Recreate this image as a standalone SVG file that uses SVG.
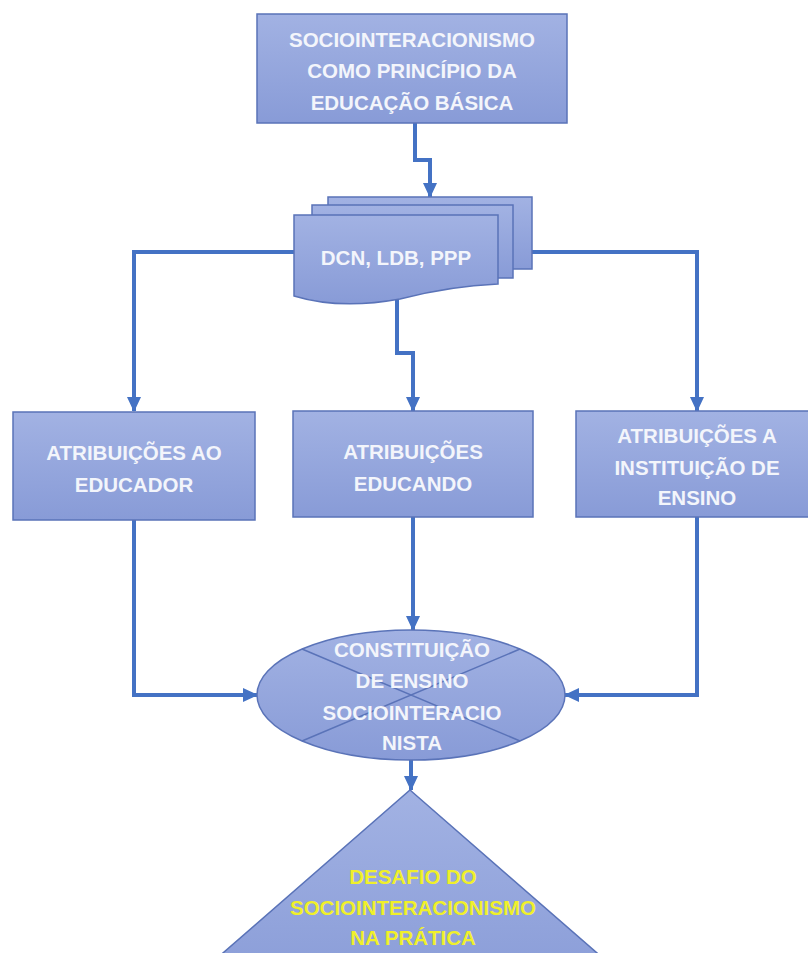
<svg xmlns="http://www.w3.org/2000/svg" width="808" height="953" viewBox="0 0 808 953">
<style>
.shape{fill:url(#g);stroke:#5A73B8;stroke-width:1.5}
.t{font-family:"Liberation Sans",Arial,sans-serif;font-weight:bold;font-size:20.5px;fill:#F3F5FB;text-anchor:middle}
.y{fill:#F0F02A}
.c{fill:none;stroke:#4472C4;stroke-width:4;marker-end:url(#a)}
.x{stroke:#5A73B8;stroke-width:1.5;fill:none}
</style>
<defs>
<linearGradient id="g" x1="0" y1="0" x2="0" y2="1">
<stop offset="0" stop-color="#A2B2E3"/>
<stop offset="1" stop-color="#889BD7"/>
</linearGradient>
<marker id="a" markerUnits="userSpaceOnUse" markerWidth="16" markerHeight="16" viewBox="0 0 16 16" refX="14" refY="8" orient="auto">
<path d="M0,1 L15,8 L0,15 Z" fill="#4472C4"/>
</marker>
</defs>
<rect width="808" height="953" fill="#FFFFFF"/>
<g id="connectors">
<path class="c" d="M415,123 V160 H430 V197"/>
<path class="c" d="M294,252 H134 V411"/>
<path class="c" d="M532,252 H697 V411"/>
<path class="c" d="M397,300 V353 H413 V411"/>
<path class="c" d="M134,520 V695 H257"/>
<path class="c" d="M413,517 V630"/>
<path class="c" d="M697,517 V695 H565"/>
<path class="c" d="M411,760 V790"/>
</g>
<g id="n1">
<rect class="shape" x="257" y="14" width="310" height="109"/>
<text class="t" x="412" y="47">SOCIOINTERACIONISMO</text>
<text class="t" x="412" y="78">COMO PRINCÍPIO DA</text>
<text class="t" x="412" y="110">EDUCAÇÃO BÁSICA</text>
</g>
<g id="n2">
<rect class="shape" x="328" y="197" width="204" height="72"/>
<rect class="shape" x="312" y="205" width="201" height="73"/>
<path class="shape" d="M294,215 H498 V284 Q450,286 400,299 Q340,310 294,296 Z"/>
<text class="t" x="396" y="265">DCN, LDB, PPP</text>
</g>
<g id="n3">
<rect class="shape" x="13" y="412" width="242" height="108"/>
<text class="t" x="134" y="460">ATRIBUIÇÕES AO</text>
<text class="t" x="134" y="492">EDUCADOR</text>
</g>
<g id="n4">
<rect class="shape" x="293" y="411" width="240" height="106"/>
<text class="t" x="413" y="459">ATRIBUIÇÕES</text>
<text class="t" x="413" y="491">EDUCANDO</text>
</g>
<g id="n5">
<rect class="shape" x="576" y="411" width="240" height="106"/>
<text class="t" x="697" y="443">ATRIBUIÇÕES A</text>
<text class="t" x="697" y="475">INSTITUIÇÃO DE</text>
<text class="t" x="697" y="505">ENSINO</text>
</g>
<g id="n6">
<ellipse class="shape" cx="411" cy="695" rx="154" ry="65"/>
<path class="x" d="M302,649 L520,741 M520,649 L302,741"/>
<text class="t" x="412" y="657">CONSTITUIÇÃO</text>
<text class="t" x="412" y="688">DE ENSINO</text>
<text class="t" x="412" y="720">SOCIOINTERACIO</text>
<text class="t" x="412" y="750">NISTA</text>
</g>
<g id="n7">
<polygon class="shape" points="410,790 651,1000 169,1000"/>
<text class="t y" x="413" y="884">DESAFIO DO</text>
<text class="t y" x="413" y="915">SOCIOINTERACIONISMO</text>
<text class="t y" x="413" y="945">NA PRÁTICA</text>
</g>
</svg>
